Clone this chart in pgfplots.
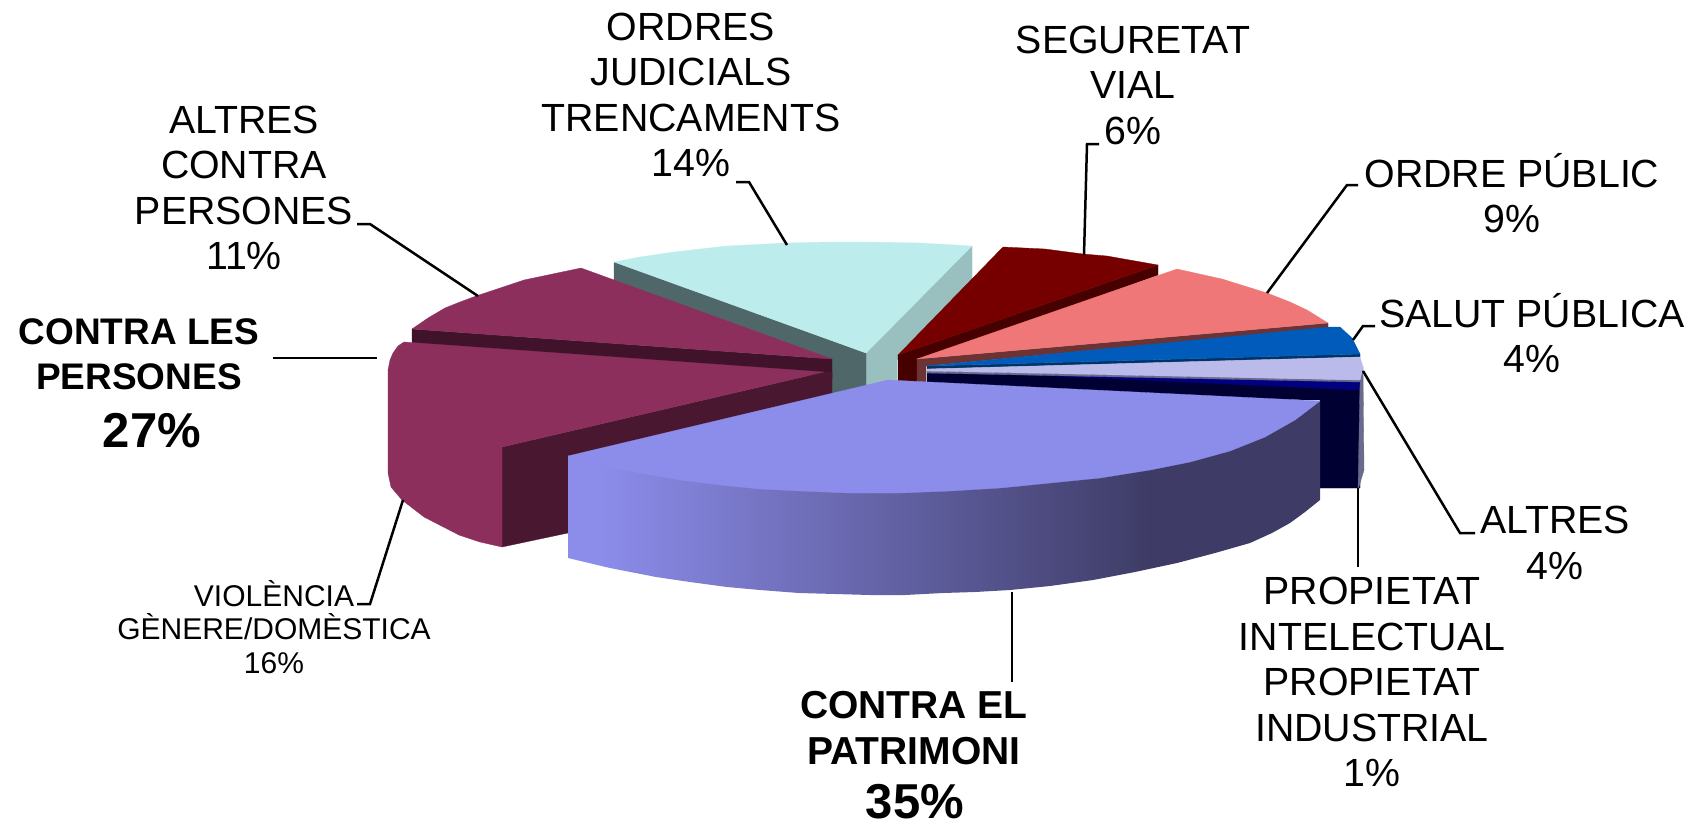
\documentclass[border=0pt]{standalone}
\usepackage{fontspec}
\setmainfont{Liberation Sans}
\usepackage{pgfplots}
\pgfplotsset{compat=1.18}
\definecolor{cytop}{HTML}{BCECEC}
\definecolor{cylight}{HTML}{99BFBF}
\definecolor{cydark}{HTML}{4F6769}
\definecolor{marr}{HTML}{8C2F5D}
\definecolor{mardark}{HTML}{40132A}
\definecolor{mardark2}{HTML}{4A1731}
\definecolor{drtop}{HTML}{760000}
\definecolor{drside}{HTML}{470000}
\definecolor{salm}{HTML}{EF7777}
\definecolor{salside}{HTML}{6B3333}
\definecolor{bltop}{HTML}{005BBB}
\definecolor{blside}{HTML}{003366}
\definecolor{lav}{HTML}{BBBBEB}
\definecolor{lavside}{HTML}{6A6A8C}
\definecolor{navy}{HTML}{000033}
\definecolor{navytop}{HTML}{000080}
\definecolor{pertop}{HTML}{8C8CEB}
\definecolor{perdark}{HTML}{3E3C66}
\pgfdeclarehorizontalshading{pershade}{100bp}{color(0bp)=(pertop); color(27bp)=(pertop); color(63.7bp)=(perdark); color(100bp)=(perdark)}
\tikzset{
 lab/.style={font=\fontsize{39.3}{45.5}\selectfont,align=center,inner sep=0pt},
 blab/.style={font=\fontsize{37}{45}\selectfont\bfseries,align=center,inner sep=0pt},
 blabb/.style={font=\fontsize{39}{45.5}\selectfont\bfseries,align=center,inner sep=0pt},
 bbig/.style={font=\fontsize{49}{55}\selectfont\bfseries,inner sep=0pt},
 slab/.style={font=\fontsize{30}{33.8}\selectfont,align=center,inner sep=0pt}}
\pgfplotsset{
 face/.style={fill=#1,draw=#1,line width=0.3pt,mark=none,forget plot},
 lead/.style={draw=black,line width=2.5pt,mark=none,forget plot,line join=miter}}
\begin{document}
\begin{tikzpicture}
\begin{axis}[hide axis,scale only axis,width=1698pt,height=823pt,
 xmin=0,xmax=1698,ymin=0,ymax=823,y dir=reverse,clip=false]
\path (axis cs:0,0) rectangle (axis cs:1698,823);
% ORDRES JUDICIALS
\addplot[face=cylight] coordinates {(866,353)(972,246)(972,290)(897,360)(897,395)(866,395)} --cycle;
\addplot[face=cydark] coordinates {(614,262)(866,353)(866,395)(832,395)(832,365)(614,285)} --cycle;
\addplot[face=cytop] coordinates {(614,262)(640,257)(674,252)(727,246)(786,243)(830,242)(870,242)(920,243)(972,246)(866,353)} --cycle;
% ALTRES CONTRA PERSONES
\addplot[face=mardark] coordinates {(412,329)(832,359)(832,378)(412,346)} --cycle;
\addplot[face=marr] coordinates {(581,268)(832,359)(412,329)(428,318)(445,308)(460,302)(476,296)(500,288)(524,280)} --cycle;
% VIOLENCIA
\addplot[face=mardark2] coordinates {(502,447)(824,372)(832,372)(832,395)(568,480)(568,533)(502,547)} --cycle;
\addplot[face=marr] coordinates {(388,370)(400,370)(440,405)(480,430)(502,440)(502,547)(480,542)(459,535)(424,517)(402,500)(391,487)(388,473)} --cycle;
\addplot[face=marr] coordinates {(404,342)(824,372)(502,447)(459,433)(424,413)(400,395)(390,383)(388,370)(390,360)(393,353)(398,346)} --cycle;
% SEGURETAT VIAL
\addplot[face=drside] coordinates {(898,355)(1158,265)(1158,275)(917,362)(917,395)(898,395)} --cycle;
\addplot[face=drtop] coordinates {(898,355)(1003,247)(1045,249)(1083,254)(1107,256)(1158,265)} --cycle;
% ORDRE PUBLIC
\addplot[face=salside] coordinates {(917,359)(1328,323)(1328,328)(926,366)(926,395)(917,395)} --cycle;
\addplot[face=salm] coordinates {(917,359)(1177,269)(1222,279)(1267,293)(1290,302)(1307,310)(1328,323)} --cycle;
% ALTRES / PROPIETAT sides
\addplot[face=navy] coordinates {(927,370)(1360,381)(1360,488)(1320,488)(1320,400)(927,395)} --cycle;
\addplot[face=lavside] coordinates {(1360,381)(1363,367)(1364,470)(1358,490)} --cycle;
\addplot[face=navytop] coordinates {(1010,374)(1360,381)(1358,390)} --cycle;
\addplot[face=lavside] coordinates {(927,371)(1360,380)(1360,382)(927,373)} --cycle;
% SALUT PUBLICA
\addplot[face=blside] coordinates {(927,366)(1360,354)(1360,357)(927,369)} --cycle;
\addplot[face=bltop] coordinates {(927,366)(1329,327)(1340,327)(1352,338)(1360,354)} --cycle;
% ALTRES
\addplot[face=lav] coordinates {(927,369)(1360,357)(1363,367)(1360,380)(927,371)} --cycle;
% CONTRA EL PATRIMONI
\addplot[forget plot,mark=none,draw=none,shading=pershade] coordinates {(568,456)(1320,401)(1320,500)(1305,512)(1290,523)(1272,533)(1250,543)(1215,553)(1177,563)(1135,572)(1093,580)(1050,586)(1010,590)(975,592)(943,593)(905,595)(870,595)(835,594)(799,593)(760,590)(727,587)(690,582)(656,577)(610,568)(568,558)} --cycle;
\addplot[face=pertop] coordinates {(568,456)(888,380)(1320,401)(1295,420)(1265,437)(1230,451)(1190,462)(1150,470)(1100,478)(1050,483)(1000,488)(950,491)(900,493)(850,493)(800,491)(760,489)(720,485)(680,480)(640,473)(600,465)} --cycle;
% leader lines
\addplot[lead] coordinates {(357,224)(370,224)(478,296)};
\addplot[lead] coordinates {(736,182)(749,182)(787,245)};
\addplot[lead] coordinates {(1099,144)(1087,144)(1084,255)};
\addplot[lead] coordinates {(1358,185)(1347,185)(1267,293)};
\addplot[lead] coordinates {(1375,326)(1363,326)(1353,340)};
\addplot[lead] coordinates {(1475,533)(1460,533)(1363,371)};
\addplot[lead] coordinates {(1358,488)(1358,567)};
\addplot[lead] coordinates {(1012,592)(1012,682)};
\addplot[lead] coordinates {(273,358)(377,358)};
\addplot[lead] coordinates {(357,604)(370,604)(403,500)};
% labels
\node[lab] at (axis cs:691,95) {ORDRES\\JUDICIALS\\TRENCAMENTS\\14\%};
\node[lab] at (axis cs:1133,85) {SEGURETAT\\VIAL\\6\%};
\node[lab] at (axis cs:1512,193) {ORDRE PÚBLIC\\9\%};
\node[lab] at (axis cs:1532,333) {SALUT PÚBLICA\\4\%};
\node[lab] at (axis cs:1555,543) {ALTRES\\4\%};
\node[lab] at (axis cs:1372,682) {PROPIETAT\\INTELECTUAL\\PROPIETAT\\INDUSTRIAL\\1\%};
\node[lab] at (axis cs:244,188) {ALTRES\\CONTRA\\PERSONES\\11\%};
\node[slab] at (axis cs:274,627) {VIOLÈNCIA\\GÈNERE/DOMÈSTICA\\16\%};
\node[blab] at (axis cs:139,354) {CONTRA LES\\PERSONES};
\node[bbig] at (axis cs:152,431) {27\%};
\node[blabb] at (axis cs:914,728) {CONTRA EL\\PATRIMONI};
\node[bbig] at (axis cs:915,802) {35\%};
\end{axis}
\end{tikzpicture}
\end{document}
